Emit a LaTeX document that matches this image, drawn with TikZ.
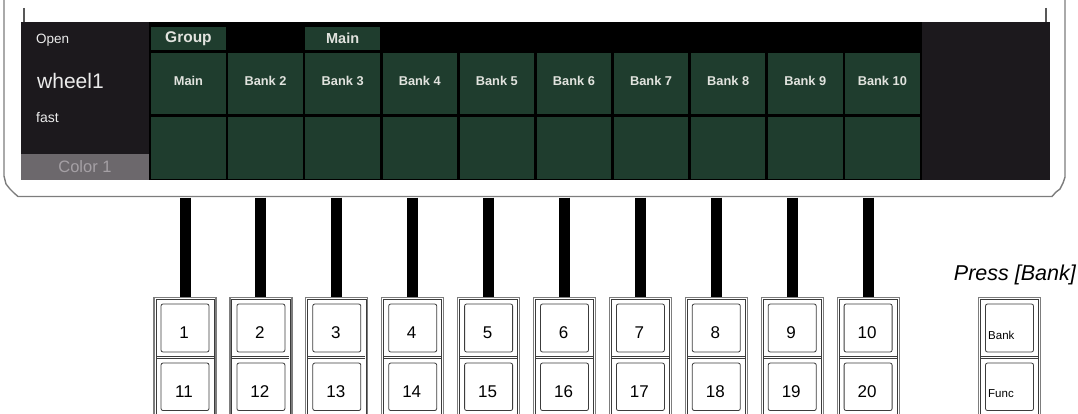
\documentclass[tikz,border=0pt]{standalone}
\usepackage{fontspec}
\setmainfont{Liberation Sans}
\definecolor{cellgreen}{RGB}{31,61,46}
\definecolor{panelc}{RGB}{28,25,29}
\definecolor{colorbar}{RGB}{108,104,108}
\definecolor{colortext}{RGB}{165,160,165}
\definecolor{celltext}{RGB}{225,227,222}
\definecolor{framec}{RGB}{125,125,125}
\definecolor{keyline}{RGB}{60,60,60}
\tikzset{
  framebox/.style={draw=framec, line width=1.4pt},
  shortline/.style={draw=framec!70!black, line width=1.2pt},
  cell/.style={fill=cellgreen, draw=none, minimum width=74.5pt, minimum height=61pt,
    inner sep=0pt, anchor=north west, text=celltext, text height=9pt, text depth=5pt,
    font=\fontsize{12.8}{14}\selectfont\bfseries},
  tab/.style={fill=cellgreen, draw=none, minimum width=74.5pt, minimum height=23pt,
    inner sep=0pt, anchor=north west, text=celltext},
  paneltext/.style={text=white!92!black, inner sep=0pt, anchor=base west},
  stembar/.style={draw=black, line width=11pt},
  body/.style={draw=framec, line width=1.2pt, fill=white, minimum width=62pt,
    minimum height=125pt, anchor=north, inner sep=0pt},
  bodyin/.style={draw=keyline, line width=0.7pt},
  keybox/.style={draw=keyline, line width=0.8pt, rounded corners=2pt, minimum width=48pt,
    minimum height=48pt, inner sep=0pt},
  num/.style={anchor=base, inner sep=0pt, font=\fontsize{17}{19}\selectfont},
  small/.style={anchor=base west, inner sep=0pt, font=\fontsize{11.5}{13}\selectfont},
}
\begin{document}
\begin{tikzpicture}[x=1pt,y=-1pt]
\useasboundingbox (0,0) rectangle (1078,414);
% screen frame
\draw[framebox] (4,0) -- (4,176) -- (6,184) -- (10,189) -- (14,193) -- (18,196.5)
  -- (1052,196.5) -- (1056,192) -- (1060,189) -- (1063,183) -- (1065,177) -- (1065,0);
\draw[shortline] (24,8) -- (24,22);
\draw[shortline] (1046,8) -- (1046,22);
% display
\fill[black] (21,22) rectangle (1050,180);
\fill[panelc] (21,22) rectangle (149,154);
\fill[colorbar] (21,154) rectangle (149,180);
\fill[panelc] (922,22) rectangle (1050,180);
\node[paneltext, font=\fontsize{13.5}{15}\selectfont] (open) at (36,44) {Open};
\node[paneltext, font=\fontsize{21}{23}\selectfont] (wheel) at (37,89) {wheel1};
\node[paneltext, font=\fontsize{14}{16}\selectfont] (fast) at (36,123) {fast};
\node[text=colortext, anchor=base, inner sep=0pt, font=\fontsize{16.5}{18}\selectfont] (color) at (85,172) {Color 1};
% tabs
\node[tab, font=\fontsize{15.5}{17}\selectfont\bfseries] (group) at (151,27) {Group};
\node[tab, font=\fontsize{14.5}{17}\selectfont\bfseries] (maintab) at (305.2,27) {Main};
% cells
\foreach \i/\t in {1/Main,2/Bank 2,3/Bank 3,4/Bank 4,5/Bank 5,6/Bank 6,7/Bank 7,8/Bank 8,9/Bank 9,10/Bank 10}{
  \pgfmathsetmacro\xl{151+77.1*(\i-1)}
  \node[cell] (c\i) at (\xl,53) {\t};
  \node[cell, minimum height=62pt] (d\i) at (\xl,117) {};
}
% buttons
\foreach \i in {1,...,10}{
  \pgfmathsetmacro\cx{185+75.9*(\i-1)}
  \pgfmathtruncatemacro\j{\i+10}
  \node[body] (b\i) at (\cx,297) {};
  \draw[bodyin] ([shift={(2.5pt,-2.5pt)}]b\i.north west) rectangle ([shift={(-2.5pt,0pt)}]b\i.south east);
  \draw[bodyin] (\cx-28.5,356) -- (\cx+28.5,356);
  \draw[bodyin] (\cx-28.5,358.5) -- (\cx+28.5,358.5);
  \node[keybox] (k\i) at (\cx,328) {};
  \node[keybox, minimum height=47.5pt] (k\j) at (\cx,386.8) {};
  \node[num] (n\i) at (\cx-1,338.3) {\i};
  \node[num] (n\j) at (\cx-1,397.5) {\j};
  \coordinate (s\i) at (\cx,197.5);
  \draw[stembar] (s\i) -- (b\i.north);
}
% Bank / Func button
\node[body] (bb) at (1009.5,297) {};
\draw[bodyin] ([shift={(2.5pt,-2.5pt)}]bb.north west) rectangle ([shift={(-2.5pt,0pt)}]bb.south east);
\draw[bodyin] (981,356) -- (1038,356);
\draw[bodyin] (981,358.5) -- (1038,358.5);
\node[keybox] (kbank) at (1009.5,328) {};
\node[keybox, minimum height=47.5pt] (kfunc) at (1009.5,386.8) {};
\node[small] (tbank) at (988,339) {Bank};
\node[small] (tfunc) at (988,397) {Func};
\node[anchor=base east, inner sep=0pt, font=\fontsize{21.5}{23}\selectfont\itshape] (press) at (1076,280) {Press [Bank]};
\end{tikzpicture}
\end{document}
